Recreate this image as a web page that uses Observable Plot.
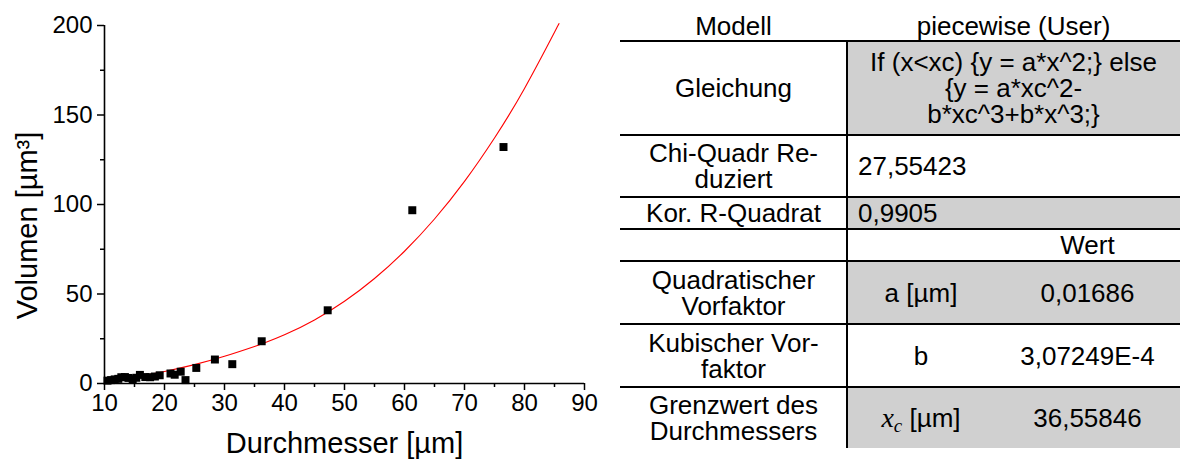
<!DOCTYPE html>
<html><head><meta charset="utf-8">
<script src="https://cdn.jsdelivr.net/npm/d3@7"></script>
<script src="https://cdn.jsdelivr.net/npm/@observablehq/plot@0.6"></script>
<style>
html,body{margin:0;padding:0;background:#fff;}
body{width:1180px;height:464px;position:relative;overflow:hidden;font-family:"Liberation Sans",Arial,sans-serif;}
#chart{position:absolute;left:0;top:0;}
#table{position:absolute;left:0;top:0;width:1180px;height:464px;}
.cell{position:absolute;display:flex;align-items:center;justify-content:center;text-align:center;font-size:26px;line-height:26px;color:#000;box-sizing:border-box;white-space:pre-line;}
.gray{position:absolute;background:#d0d0d0;}
.hline{position:absolute;height:2px;background:#000;}
.vline{position:absolute;width:2px;background:#000;}
.xc{font-family:"Liberation Serif","DejaVu Serif",serif;font-style:italic;font-size:28px;}
.xc sub{font-size:19px;vertical-align:-5px;line-height:0;}
</style></head><body>
<div id="chart"></div><div id="table"></div>
<script>
// ---- chart data ----
const diameter = [10.5, 11.1, 11.7, 12.3, 12.8, 13.4, 14.0, 14.7, 15.3, 15.9, 16.8, 17.6, 18.4, 19.2, 21.0, 21.7, 22.7, 23.5, 25.3, 28.4, 31.3, 36.2, 47.2, 61.3, 76.5];
const volume   = [1.6, 1.9, 2.3, 2.6, 3.5, 3.6, 3.1, 2.4, 3.2, 4.8, 3.6, 3.5, 3.9, 4.6, 5.6, 4.9, 6.6, 1.9, 8.7, 13.4, 10.8, 23.6, 40.9, 96.8, 132.1];
// fitted curve, values
const fitX = [10, 15, 20, 25, 30, 35, 36.56, 40, 45, 50, 55, 60, 65, 70, 75, 80, 85, 85.58];
const fitY = [1.69, 3.79, 6.74, 10.54, 15.17, 20.65, 22.53, 27.18, 35.52, 45.93, 58.64, 73.89, 91.90, 112.91, 137.14, 164.83, 196.21, 200];
const xTicks = [10, 20, 30, 40, 50, 60, 70, 80, 90];
const xMinorTicks = [15, 25, 35, 45, 55, 65, 75, 85];
const yTicks = [0, 50, 100, 150, 200];
const yMinorTicks = [25, 75, 125, 175];
const xTitle = "Durchmesser [µm]";
const yTitle = "Volumen [µm³]";

// ---- table texts ----
const headerLabel = "Modell";
const headerValue = "piecewise (User)";
const rowLabels = ["Gleichung", "Chi-Quadr Re-\nduziert", "Kor. R-Quadrat", "", "Quadratischer\nVorfaktor", "Kubischer Vor-\nfaktor", "Grenzwert des\nDurchmessers"];
const equationText = "If (x<xc) {y = a*x^2;} else\n{y = a*xc^2-\nb*xc^3+b*x^3;}";
const chiValue = "27,55423";
const r2Value = "0,9905";
const valueHeader = "Wert";
const paramNames = ["a [µm]", "b", "xc [µm]"];
const paramValues = ["0,01686", "3,07249E-4", "36,55846"];

// ---- chart ----
const points = diameter.map((d, i) => ({x: d, y: volume[i]}));
const fit = fitX.map((d, i) => ({x: d, y: fitY[i]}));

const plot = Plot.plot({
  width: 610, height: 464,
  marginLeft: 104, marginRight: 26, marginTop: 25, marginBottom: 81,
  x: {domain: [10, 90], label: null},
  y: {domain: [0, 200], label: null},
  style: {fontFamily: "'Liberation Sans', Arial, sans-serif", fontSize: "24px", color: "#000", background: "#fff", overflow: "visible"},
  marks: [
    Plot.axisX(xMinorTicks, {tickSize: 4, text: null, strokeWidth: 1.5, label: null}),
    Plot.axisX(xTicks, {tickSize: 7, tickPadding: 3, strokeWidth: 1.5, label: null, fontSize: 24}),
    Plot.axisY(yMinorTicks, {tickSize: 4, text: null, strokeWidth: 1.5, label: null}),
    Plot.axisY(yTicks, {tickSize: 7, tickPadding: 5, strokeWidth: 1.5, label: null, fontSize: 24}),
    Plot.ruleY([0], {stroke: "#000", strokeWidth: 1.6}),
    Plot.ruleX([10], {stroke: "#000", strokeWidth: 1.6}),
    Plot.line(fit, {x: "x", y: "y", stroke: "#ff0000", strokeWidth: 1.1, curve: "natural"}),
    Plot.dot(points, {x: "x", y: "y", symbol: "square", r: 4.5, fill: "#000", stroke: "none"}),
    Plot.text([xTitle], {frameAnchor: "bottom", text: d => d, textAnchor: "middle", dy: 69, fontSize: 29, fill: "#000"}),
    Plot.text([yTitle], {frameAnchor: "left", text: d => d, textAnchor: "middle", rotate: -90, dx: -77, dy: 21, fontSize: 29, fill: "#000"})
  ]
});
document.getElementById("chart").appendChild(plot);

// ---- table ----
const T = document.getElementById("table");
const L = 620, C = 847, S = 995, R = 1180;
const rowY = [0, 41, 135, 197, 229, 261, 324, 387, 448];
function box(cls, x, y, w, h) {
  const d = document.createElement("div");
  d.className = cls;
  Object.assign(d.style, {left: x + "px", top: y + "px", width: w + "px", height: h + "px"});
  T.appendChild(d);
  return d;
}
function cell(x, y, w, h, text, opts = {}) {
  const d = box("cell", x, y, w, h);
  if (opts.html) d.innerHTML = text; else d.textContent = text;
  if (opts.left) { d.style.justifyContent = "flex-start"; d.style.paddingLeft = opts.left + "px"; }
  if (opts.bottom) { d.style.alignItems = "flex-end"; d.style.paddingBottom = opts.bottom + "px"; }
  return d;
}
// gray fills (right part of rows 1,3,5,7)
[1, 3, 5, 7].forEach(r => box("gray", C + 1, rowY[r], R - C - 1, rowY[r + 1] - rowY[r]));
// header
cell(L, 0, C - L, 41, headerLabel, {bottom: 2});
cell(C, 0, R - C, 41, headerValue, {bottom: 2});
// labels
rowLabels.forEach((t, i) => cell(L, rowY[i + 1], C - L, rowY[i + 2] - rowY[i + 1], t));
// values
cell(C, rowY[1], R - C, rowY[2] - rowY[1], equationText);
cell(C, rowY[2], R - C, rowY[3] - rowY[2], chiValue, {left: 11});
cell(C, rowY[3], R - C, rowY[4] - rowY[3], r2Value, {left: 11});
cell(S, rowY[4], R - S, rowY[5] - rowY[4], valueHeader);
paramNames.forEach((t, i) => {
  const r = 5 + i;
  const html = t === "xc [µm]" ? '<span class="xc">x<sub>c</sub></span>&nbsp;[µm]' : t;
  cell(C, rowY[r], S - C, rowY[r + 1] - rowY[r], html, {html: true});
  cell(S, rowY[r], R - S, rowY[r + 1] - rowY[r], paramValues[i]);
});
// lines
rowY.slice(1, 8).forEach(y => box("hline", L, y - 1, R - L, 2));
box("vline", C - 1, rowY[1], 2, rowY[8] - rowY[1]);
</script>
</body></html>
